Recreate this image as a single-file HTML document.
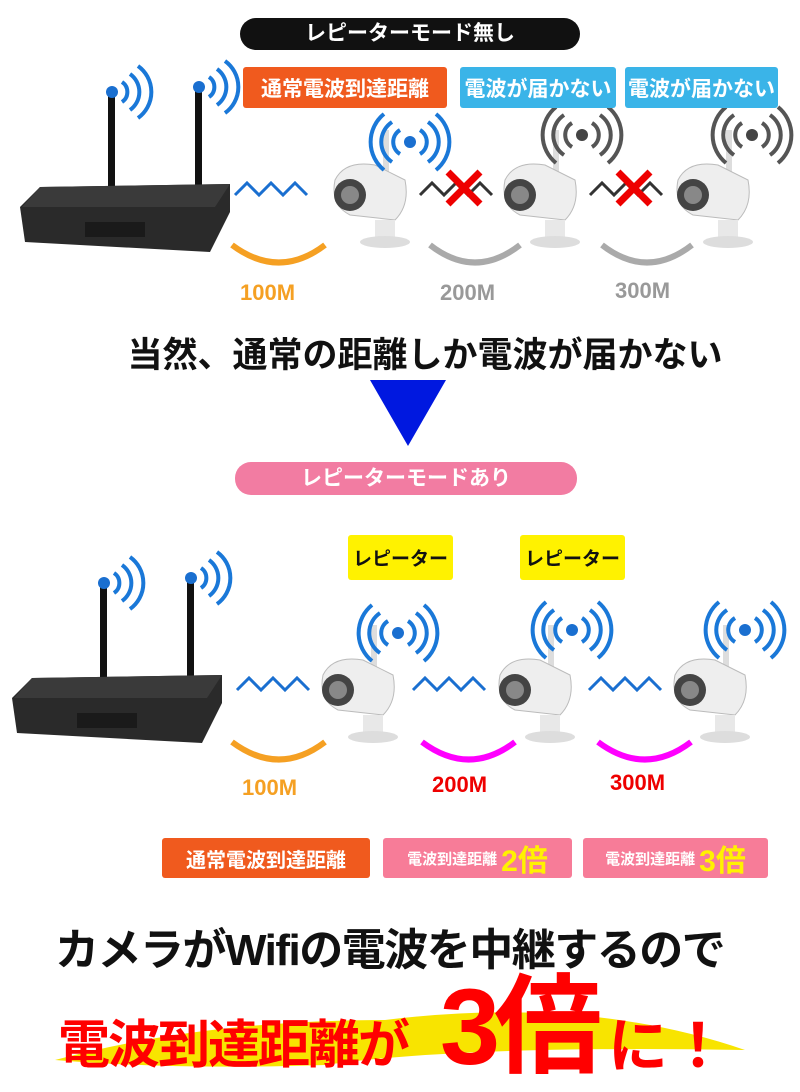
<!DOCTYPE html>
<html><head><meta charset="utf-8"><style>
body{margin:0;width:800px;height:1080px;background:#fff;position:relative;overflow:hidden;font-family:"Liberation Sans","Noto Sans CJK JP",sans-serif;font-weight:bold}
.a{position:absolute;white-space:nowrap}
.lbl{position:absolute;display:flex;align-items:center;justify-content:center;color:#fff;font-size:21px;border-radius:3px}
</style></head><body>
<svg class="a" style="left:0;top:0" width="800" height="1080">
<defs>
<g id="router">
<rect x="108" y="0" width="7" height="95" fill="#111"/><rect x="195" y="-5" width="7" height="100" fill="#111"/>
<circle cx="112" cy="0" r="6" fill="#1a6fd0"/><circle cx="199" cy="-5" r="6" fill="#1a6fd0"/>
<g fill="none" stroke="#1a78d8" stroke-width="4"><path d="M122 -10 a12 12 0 0 1 0 20"/><path d="M130 -18 a22 22 0 0 1 0 36"/><path d="M138 -26 a32 32 0 0 1 0 52"/>
<path d="M209 -15 a12 12 0 0 1 0 20"/><path d="M217 -23 a22 22 0 0 1 0 36"/><path d="M225 -31 a32 32 0 0 1 0 52"/></g>
<polygon points="40,95 230,92 230,120 210,160 25,150 20,115" fill="#2a2a2a"/>
<polygon points="40,95 230,92 215,115 22,115" fill="#3a3a3a"/>
<rect x="85" y="130" width="60" height="15" fill="#1a1a1a"/>
</g>
<g id="cam">
<rect x="58" y="-30" width="6" height="80" fill="#ddd"/>
<path d="M10 20 q10 -20 40 -15 l30 15 q5 25 -10 40 l-45 -5 q-20 -10 -15 -35z" fill="#eee" stroke="#bbb"/>
<circle cx="25" cy="35" r="16" fill="#444"/><circle cx="25" cy="35" r="9" fill="#888"/>
<rect x="50" y="60" width="20" height="20" fill="#e8e8e8"/><ellipse cx="60" cy="82" rx="25" ry="6" fill="#ddd"/>
</g>
<g id="wifiB" fill="none" stroke-width="4"><path d="M-10 -12 a14 14 0 0 0 0 24"/><path d="M-18 -20 a24 24 0 0 0 0 40"/><path d="M-26 -28 a36 36 0 0 0 0 56"/><path d="M10 -12 a14 14 0 0 1 0 24"/><path d="M18 -20 a24 24 0 0 1 0 40"/><path d="M26 -28 a36 36 0 0 1 0 56"/></g>
</defs>
<rect x="240" y="18" width="340" height="32" rx="16" fill="#111"/>
<use href="#router" x="0" y="92"/>
<g fill="none" stroke="#1a6fd0" stroke-width="3"><path d="M235 195 l12 -12 l12 12 l12 -12 l12 12 l12 -12 l12 12"/></g>
<g fill="none" stroke="#333" stroke-width="3"><path d="M420 195 l12 -12 l12 12 l12 -12 l12 12 l12 -12 l12 12"/><path d="M590 195 l12 -12 l12 12 l12 -12 l12 12 l12 -12 l12 12"/></g>
<use href="#cam" x="325" y="160"/><use href="#cam" x="495" y="160"/><use href="#cam" x="668" y="160"/>
<use href="#wifiB" x="410" y="142" stroke="#1a78d8"/><circle cx="410" cy="142" r="6" fill="#1a6fd0"/>
<use href="#wifiB" x="582" y="135" stroke="#555"/><circle cx="582" cy="135" r="6" fill="#444"/>
<use href="#wifiB" x="752" y="135" stroke="#555"/><circle cx="752" cy="135" r="6" fill="#444"/>
<g stroke="#e00" stroke-width="7"><path d="M448 172 l32 32 M480 172 l-32 32"/><path d="M618 172 l32 32 M650 172 l-32 32"/></g>
<g fill="none" stroke-width="6"><path d="M232 245 q47 35 93 0" stroke="#f5a023"/><path d="M430 245 q45 35 90 0" stroke="#aaa"/><path d="M602 245 q45 35 90 0" stroke="#aaa"/></g>
<polygon points="370,380 446,380 408,446" fill="#0018e0"/>
<rect x="235" y="462" width="342" height="33" rx="16" fill="#f27ca2"/>
<use href="#router" x="-8" y="583"/>
<g fill="none" stroke="#1a6fd0" stroke-width="3"><path d="M237 690 l12 -12 l12 12 l12 -12 l12 12 l12 -12 l12 12"/><path d="M413 690 l12 -12 l12 12 l12 -12 l12 12 l12 -12 l12 12"/><path d="M589 690 l12 -12 l12 12 l12 -12 l12 12 l12 -12 l12 12"/></g>
<use href="#cam" x="313" y="655"/><use href="#cam" x="490" y="655"/><use href="#cam" x="665" y="655"/>
<use href="#wifiB" x="398" y="633" stroke="#1a78d8"/><circle cx="398" cy="633" r="6" fill="#1a6fd0"/>
<use href="#wifiB" x="572" y="630" stroke="#1a78d8"/><circle cx="572" cy="630" r="6" fill="#1a6fd0"/>
<use href="#wifiB" x="745" y="630" stroke="#1a78d8"/><circle cx="745" cy="630" r="6" fill="#1a6fd0"/>
<g fill="none" stroke-width="6"><path d="M232 742 q47 35 93 0" stroke="#f5a023"/><path d="M422 742 q47 35 93 0" stroke="#f0f"/><path d="M598 742 q47 35 93 0" stroke="#f0f"/></g>
<path d="M55 1060 q150 -40 330 -40 q200 -25 360 30 q-280 -5 -420 15 q-150 5 -270 -5 z" fill="#f8e400"/>
</svg>
<div class="a" style="left:240px;top:18px;width:340px;line-height:32px;text-align:center;color:#fff;font-size:21px">レピーターモード無し</div>
<div class="lbl" style="left:243px;top:67px;width:204px;height:41px;background:#f05a1e">通常電波到達距離</div>
<div class="lbl" style="left:460px;top:67px;width:156px;height:41px;background:#3ab4e8">電波が届かない</div>
<div class="lbl" style="left:625px;top:67px;width:153px;height:41px;background:#3ab4e8">電波が届かない</div>
<div class="a" style="left:240px;top:280px;font-size:22px;color:#f5a023">100M</div>
<div class="a" style="left:440px;top:280px;font-size:22px;color:#999">200M</div>
<div class="a" style="left:615px;top:278px;font-size:22px;color:#999">300M</div>
<div class="a" style="left:0;width:850px;text-align:center;top:327px;font-size:35px;color:#111">当然、通常の距離しか電波が届かない</div>
<div class="a" style="left:235px;top:462px;width:342px;line-height:33px;text-align:center;color:#fff;font-size:21px">レピーターモードあり</div>
<div class="lbl" style="left:348px;top:535px;width:105px;height:45px;background:#fff200;color:#111;font-size:19px">レピーター</div>
<div class="lbl" style="left:520px;top:535px;width:105px;height:45px;background:#fff200;color:#111;font-size:19px">レピーター</div>
<div class="a" style="left:242px;top:775px;font-size:22px;color:#f5a023">100M</div>
<div class="a" style="left:432px;top:772px;font-size:22px;color:#e00">200M</div>
<div class="a" style="left:610px;top:770px;font-size:22px;color:#e00">300M</div>
<div class="lbl" style="left:162px;top:838px;width:208px;height:40px;background:#f05a1e;font-size:20px">通常電波到達距離</div>
<div class="lbl" style="left:383px;top:838px;width:189px;height:40px;background:#f77c98;font-size:15px">電波到達距離<span style="color:#fff200;font-size:30px;margin-left:4px">2倍</span></div>
<div class="lbl" style="left:583px;top:838px;width:185px;height:40px;background:#f77c98;font-size:15px">電波到達距離<span style="color:#fff200;font-size:30px;margin-left:4px">3倍</span></div>
<div class="a" style="left:55px;top:914px;font-size:44px;color:#111;letter-spacing:-1.5px">カメラがWifiの電波を中継するので</div>
<div class="a" style="left:58px;top:1003px;font-size:52px;color:#f00;letter-spacing:-2px">電波到達距離が</div>
<div class="a" style="left:440px;top:962px;font-size:108px;line-height:130px;color:#f00;letter-spacing:-6px">3倍</div>
<div class="a" style="left:608px;top:998px;font-size:60px;color:#f00">に！</div>
</body></html>
